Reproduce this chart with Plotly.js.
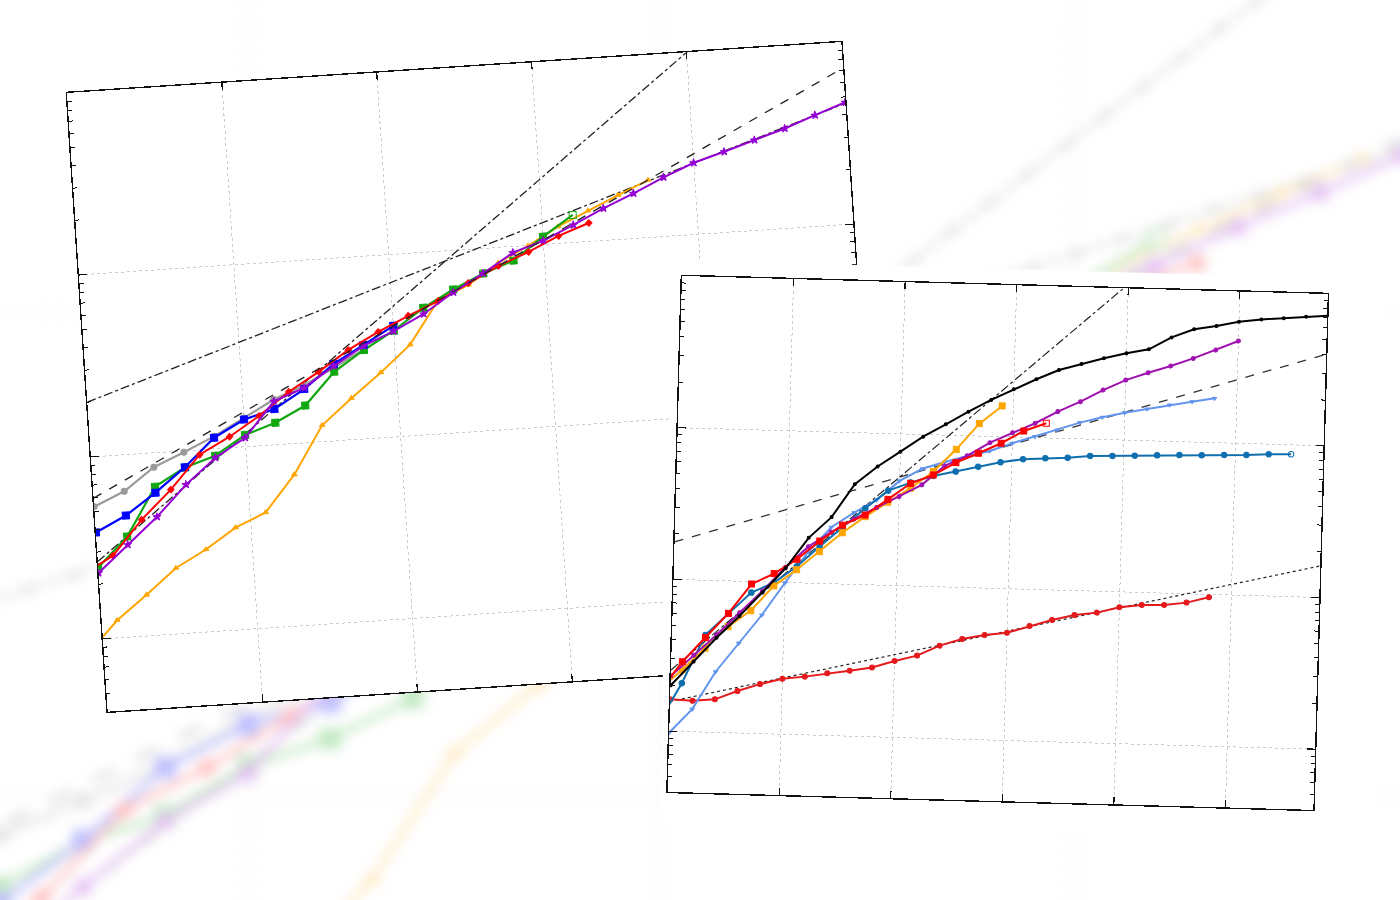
<!DOCTYPE html>
<html>
<head>
<meta charset="utf-8">
<script src="https://cdn.plot.ly/plotly-3.0.1.min.js"></script>
<style>
  html, body { margin:0; padding:0; width:1400px; height:900px; overflow:hidden; background:#ffffff; }
  .panel { position:absolute; }
</style>
</head>
<body>
<div id="bg" class="panel"></div>
<div id="p1" class="panel"></div>
<div id="p2" class="panel"></div>
<script>
// ---------------- Panel 1 (left chart) : values per day, log scale ----------------
const p1Gray   = [53.3, 63.1, 83.4, 98.2, 117, 144, 177, 206, 251, 309];                 // from day 0
const p1Blue   = [38.4, 46.4, 60.4, 81.3, 115, 141, 157, 197, 264, 327, 406];            // from day 0
const p1Green  = [24.7, 35.6, 65.2, 81, 91.6, 116, 132, 160, 239, 307, 382, 497, 611, 728, 836, 1104, 1415]; // from day 0
const p1Red    = [22.9, 28.3, 43.5, 62, 94, 115, 146, 193, 242, 311, 381, 455, 536, 655, 792, 921, 1099, 1262]; // from day -0.5
const p1Orange = [8.4, 12.5, 16.8, 23.0, 28.3, 36.4, 43.0, 67.6, 123, 169, 228, 316, 542, 640, 822, 994, 1236, 1472, 1750, 2064]; // from day -0.5
const p1Purple = [23.0, 32.1, 44.5, 65.2, 89.3, 112, 173, 200, 257, 323, 380, 460, 590, 731, 925, 1049, 1247, 1500, 1766, 2110, 2470, 2770, 3130, 3530, 4070, 4670]; // from day 0
const p1Starts = {gray:0, blue:0, green:0, red:-0.5, orange:-0.5, purple:0};
const p1RefDays        = [0, 25];
const p1Dashed         = [59.4, 7210];
const p1SteepDashDot   = [26.6, 43950];
const p1ShallowDashDot = [200, 4613];
const p1XRange = [0, 25];

// ---------------- Panel 2 (right chart) ----------------
const p2Black     = [20, 29, 42, 59, 85, 124, 199, 275, 457, 604, 764, 968, 1180, 1443, 1740, 2064, 2427, 2820, 3115, 3434, 3736, 4010, 4850, 5540, 5870, 6330, 6620, 6800, 7030, 7200]; // from day 0
const p2Purple    = [23.1, 32, 44, 62, 87, 126, 174, 219, 269, 324, 387, 466, 627, 739, 910, 1069, 1245, 1500, 1760, 2120, 2490, 2810, 3140, 3560, 4080, 4720]; // from day 0
const p2LightBlue = [9.8, 14.1, 25.1, 39.1, 60.5, 99.7, 161, 236, 297, 364, 490, 595, 666, 736, 802, 910, 1016, 1135, 1281, 1403, 1518, 1620, 1737, 1845, 1960]; // from day 0
const p2Teal      = [11.2, 20.8, 43.7, 61.2, 84.6, 99.4, 128, 175, 235, 319, 421, 480, 536, 578, 629, 679, 718, 735, 748, 776, 784, 794, 806, 818, 822, 834, 841, 859, 867]; // from day -0.5
const p2Red       = [18.1, 28.8, 42.0, 61.2, 96.4, 114, 143, 190, 245, 288, 369, 475, 544, 662, 771, 906, 1101, 1251]; // from day -0.5
const p2Orange    = [18.6, 25.5, 35.7, 50.0, 64.4, 94.6, 122, 162, 218, 281, 353, 441, 573, 811, 1209, 1596]; // from day -0.5
const p2DarkRed   = [16.2, 16.0, 16.5, 18.9, 21.2, 23.2, 24.2, 25.7, 27.0, 28.6, 31.9, 34.9, 41.0, 45.8, 49.1, 51.3, 57.4, 63.5, 69.0, 72.3, 79.2, 82.8, 83.6, 87.4, 95.7]; // from day 0
const p2Starts = {black:0, purple:0, lightblue:0, teal:-0.5, red:-0.5, orange:-0.5, darkred:0};
const p2RefDays      = [0, 29];
const p2SteepDashDot = [25.3, 162000];
const p2Dashed       = [177, 4036];
const p2Dotted       = [15.7, 162];
const p2XRange = [0, 28.94];

const yLogRange = [0.6, 4];

function days(start, vals) { return vals.map((_, i) => start + i); }
function lastOpen(n, filled, open) { return Array.from({length:n}, (_, i) => i === n - 1 ? open : filled); }

function series(start, vals, color, symbol, size, width, extra) {
  const t = {
    type:'scatter', mode:'lines+markers', x: days(start, vals), y: vals,
    line:{color:color, width:width || 2},
    marker:{color:color, symbol:symbol, size:size, line:{color:color, width:1}},
    hoverinfo:'skip', showlegend:false
  };
  return Object.assign(t, extra || {});
}
function refLine(xs, ys, dash, color, width) {
  return {type:'scatter', mode:'lines', x:xs, y:ys, line:{color:color, width:width, dash:dash},
          hoverinfo:'skip', showlegend:false};
}

function xAxis(range) {
  return {range:range, tick0:0, dtick:5, showgrid:true, gridcolor:'#cdcdcd', griddash:'dot', gridwidth:1,
          zeroline:false, showline:true, linecolor:'#111', linewidth:1.4, mirror:'ticks',
          ticks:'inside', ticklen:7, tickwidth:1.2, tickcolor:'#111', showticklabels:false, fixedrange:true};
}
function yAxis() {
  return {type:'log', range:yLogRange, dtick:1, showgrid:true, gridcolor:'#cdcdcd', griddash:'dot', gridwidth:1,
          zeroline:false, showline:true, linecolor:'#111', linewidth:1.4, mirror:'ticks',
          ticks:'inside', ticklen:8, tickwidth:1.2, tickcolor:'#111', showticklabels:false, fixedrange:true,
          minor:{ticks:'inside', ticklen:4, tickwidth:1, tickcolor:'#111', dtick:'D1', showgrid:false}};
}

function p1Traces() {
  const gSym = lastOpen(p1Green.length, 'square', 'square-open');
  return [
    refLine(p1RefDays, p1ShallowDashDot, 'dashdot', '#222', 1.3),
    refLine(p1RefDays, p1SteepDashDot, 'dashdot', '#222', 1.3),
    series(p1Starts.orange, p1Orange, '#ffa500', 'triangle-up', 5, 2),
    series(p1Starts.gray, p1Gray, '#9a9a9a', 'circle', 6, 2.2),
    series(p1Starts.green, p1Green, '#10a810', gSym, 7, 2.2),
    series(p1Starts.blue, p1Blue, '#0000ff', 'square', 7, 2.2),
    series(p1Starts.red, p1Red, '#ff0000', 'diamond', 5, 2),
    series(p1Starts.purple, p1Purple, '#9400d3', 'star', 6, 2),
    refLine(p1RefDays, p1Dashed, 'dash', '#222', 1.3)
  ];
}
function p2Traces() {
  return [
    refLine(p2RefDays, p2Dotted, 'dot', '#222', 1.2),
    refLine(p2RefDays, p2Dashed, 'dash', '#333', 1.3),
    refLine(p2RefDays, p2SteepDashDot, 'dashdot', '#222', 1.2),
    series(p2Starts.darkred, p2DarkRed, '#e41a1c', 'circle', 5, 2),
    series(p2Starts.lightblue, p2LightBlue, '#6495ed', 'triangle-down', 4, 2),
    series(p2Starts.teal, p2Teal, '#0f6fae', lastOpen(p2Teal.length, 'circle', 'circle-open'), 5.5, 2),
    series(p2Starts.orange, p2Orange, '#ffa500', 'square', 6, 2),
    series(p2Starts.purple, p2Purple, '#a012b0', 'circle', 4, 2),
    series(p2Starts.red, p2Red, '#ff0000', lastOpen(p2Red.length, 'square', 'square-open'), 6, 2),
    series(p2Starts.black, p2Black, '#000000', 'circle', 3, 2)
  ];
}

function place(id, frameW, frameH, m, left, top, transform, paper, filterCss, opacity) {
  const el = document.getElementById(id);
  const W = frameW + m.l + m.r, H = frameH + m.t + m.b;
  el.style.width = W + 'px';
  el.style.height = H + 'px';
  el.style.left = (left - m.l) + 'px';
  el.style.top = (top - m.t) + 'px';
  el.style.transformOrigin = m.l + 'px ' + m.t + 'px';
  el.style.transform = transform;
  if (filterCss) el.style.filter = filterCss;
  if (opacity !== undefined) el.style.opacity = opacity;
  return {width:W, height:H, margin:{l:m.l, r:m.r, t:m.t, b:m.b, pad:0},
          paper_bgcolor:paper, plot_bgcolor:'#ffffff', showlegend:false};
}

const cfg = {staticPlot:true, displayModeBar:false, responsive:false};

// blurred, enlarged copy of the left chart in the background
const bgLayout = place('bg', 776, 620, {l:4, r:4, t:4, b:4}, -165, -173, 'scale(2.66)', 'rgba(0,0,0,0)', 'blur(2.2px)', 0.24);
bgLayout.xaxis = xAxis(p1XRange); bgLayout.yaxis = yAxis();
Plotly.newPlot('bg', p1Traces(), bgLayout, cfg);

// left chart
const p1Layout = place('p1', 776, 620, {l:3, r:3, t:3, b:3}, 67, 93, 'rotate(-3.76deg)', 'rgba(0,0,0,0)');
p1Layout.xaxis = xAxis(p1XRange); p1Layout.yaxis = yAxis();
Plotly.newPlot('p1', p1Traces(), p1Layout, cfg);

// right chart
const p2Layout = place('p2', 646, 516, {l:8, r:60, t:16, b:30}, 682, 276, 'rotate(1.6deg)', '#ffffff');
p2Layout.xaxis = xAxis(p2XRange); p2Layout.yaxis = yAxis();
Plotly.newPlot('p2', p2Traces(), p2Layout, cfg);
</script>
</body>
</html>
